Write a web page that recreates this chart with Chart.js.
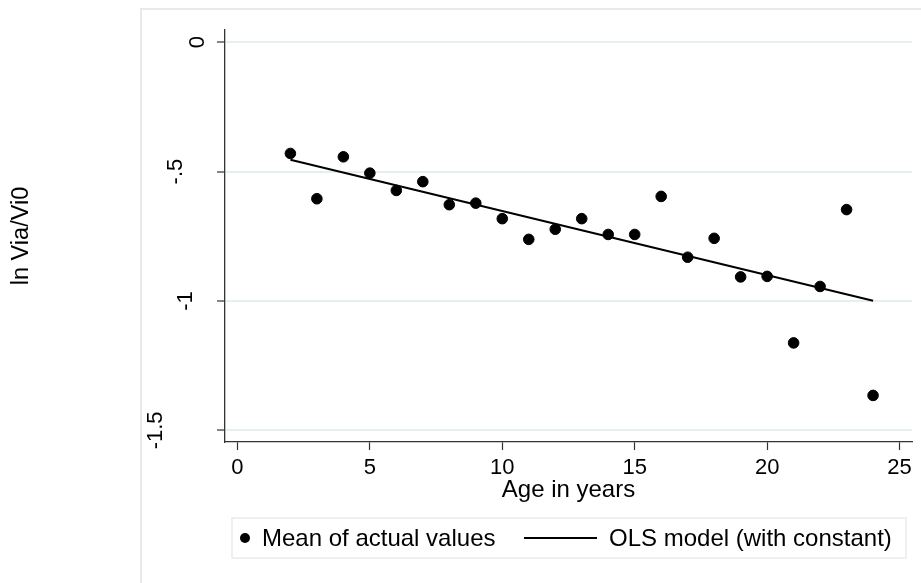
<!DOCTYPE html>
<html>
<head>
<meta charset="utf-8">
<script src="https://cdn.jsdelivr.net/npm/chart.js@4/dist/chart.umd.min.js"></script>
<style>
  html, body { margin: 0; padding: 0; background: #fff; }
  #wrap { width: 921px; height: 583px; position: relative; }
</style>
</head>
<body>
<div id="wrap"><canvas id="chart" width="921" height="583"></canvas></div>
<script>
// age (years) and mean ln Via/Vi0 at each age
const ages = [2, 3, 4, 5, 6, 7, 8, 9, 10, 11, 12, 13, 14, 15, 16, 17, 18, 19, 20, 21, 22, 23, 24];
const meanValues = [-0.430, -0.605, -0.443, -0.506, -0.573, -0.539, -0.628, -0.622, -0.682, -0.762,
  -0.723, -0.682, -0.743, -0.743, -0.596, -0.831, -0.758, -0.907, -0.905, -1.162, -0.944, -0.647, -1.365];

// fitted OLS line, end points
const olsAges = [2, 24];
const olsValues = [-0.454, -0.999];

const xTicks = [0, 5, 10, 15, 20, 25];
const yTicks = [-1.5, -1, -0.5, 0];
const yTickLabels = ["-1.5", "-1", "-.5", "0"];

const FONT = "'Liberation Sans', Arial, Helvetica, sans-serif";
const GRID = "#e8eff1";
const AXIS = "#333";

// light outline around the whole graph region
const frame = {
  id: "frame",
  beforeDraw(chart) {
    const ctx = chart.ctx;
    ctx.save();
    ctx.strokeStyle = "#e4eaed";
    ctx.lineWidth = 2;
    ctx.strokeRect(141, 9, 800, 600);
    ctx.restore();
  }
};

// vertical y tick labels, stata style
const yLabels = {
  id: "yLabels",
  afterDraw(chart) {
    const ctx = chart.ctx;
    const y = chart.scales.y;
    ctx.save();
    ctx.font = "22px " + FONT;
    ctx.fillStyle = "#000";
    ctx.textAlign = "center";
    ctx.textBaseline = "middle";
    yTicks.forEach((v, i) => {
      const label = yTickLabels[i];
      const w = ctx.measureText(label).width;
      const cx = y.right - 7 - 1.63 * w;
      ctx.save();
      ctx.translate(cx, y.getPixelForValue(v));
      ctx.rotate(-Math.PI / 2);
      ctx.fillText(label, 0, 0);
      ctx.restore();
    });
    ctx.restore();
  }
};

// boxed legend under the axis title
const legendBox = {
  id: "legendBox",
  afterDraw(chart) {
    const ctx = chart.ctx;
    const ds = chart.data.datasets;
    const top = 518, bottom = 558, left = 232, right = 906;
    const cy = (top + bottom) / 2;
    ctx.save();
    ctx.fillStyle = "#fff";
    ctx.fillRect(left, top, right - left, bottom - top);
    ctx.strokeStyle = "#e6ecef";
    ctx.lineWidth = 1.5;
    ctx.strokeRect(left, top, right - left, bottom - top);

    ctx.font = "24px " + FONT;
    ctx.textBaseline = "middle";
    ctx.textAlign = "left";

    // markers
    ctx.fillStyle = "#000";
    ctx.beginPath();
    ctx.arc(245, cy, 5, 0, Math.PI * 2);
    ctx.fill();
    ctx.fillText(ds[0].label, 262, cy + 1);

    ctx.strokeStyle = "#000";
    ctx.lineWidth = 2;
    ctx.beginPath();
    ctx.moveTo(524, cy);
    ctx.lineTo(597, cy);
    ctx.stroke();
    ctx.fillText(ds[1].label, 609, cy + 1);
    ctx.restore();
  }
};

new Chart(document.getElementById("chart"), {
  type: "scatter",
  data: {
    datasets: [
      {
        label: "Mean of actual values",
        data: ages.map((a, i) => ({ x: a, y: meanValues[i] })),
        backgroundColor: "#000",
        borderColor: "#000",
        pointRadius: 5.3,
        pointHoverRadius: 5.3,
        showLine: false,
        order: 1
      },
      {
        label: "OLS model (with constant)",
        data: olsAges.map((a, i) => ({ x: a, y: olsValues[i] })),
        borderColor: "#000",
        borderWidth: 2,
        pointRadius: 0,
        showLine: true,
        fill: false,
        order: 0
      }
    ]
  },
  options: {
    responsive: false,
    animation: false,
    layout: { padding: { left: 0, top: 30, right: 9, bottom: 78 } },
    plugins: {
      legend: { display: false },
      tooltip: { enabled: false }
    },
    scales: {
      x: {
        type: "linear",
        min: -0.469,
        max: 25.47,
        afterBuildTicks: (s) => { s.ticks = xTicks.map((v) => ({ value: v })); },
        afterFit: (s) => { s.height = 63; },
        grid: {
          drawOnChartArea: false,
          drawTicks: true,
          tickLength: 8,
          tickColor: AXIS,
          tickWidth: 1.2
        },
        border: { display: true, color: AXIS, width: 1.3 },
        ticks: {
          color: "#000",
          font: { family: FONT, size: 22 },
          padding: 5,
          maxRotation: 0,
          callback: (v) => String(v)
        },
        title: {
          display: true,
          text: "Age in years",
          color: "#000",
          font: { family: FONT, size: 24 },
          padding: { top: 0, bottom: 0 }
        }
      },
      y: {
        type: "linear",
        min: -1.545,
        max: 0.047,
        afterBuildTicks: (s) => { s.ticks = yTicks.map((v) => ({ value: v })); },
        afterFit: (s) => { s.width = 225; },
        grid: {
          color: GRID,
          lineWidth: 2,
          drawTicks: true,
          tickLength: 8,
          tickColor: AXIS,
          tickWidth: 1.2
        },
        border: { display: true, color: AXIS, width: 1.3 },
        ticks: { display: false },
        title: {
          display: true,
          text: "ln Via/Vi0",
          color: "#000",
          font: { family: FONT, size: 23.5 },
          padding: { top: 7, bottom: 0 }
        }
      }
    }
  },
  plugins: [frame, yLabels, legendBox]
});
</script>
</body>
</html>
